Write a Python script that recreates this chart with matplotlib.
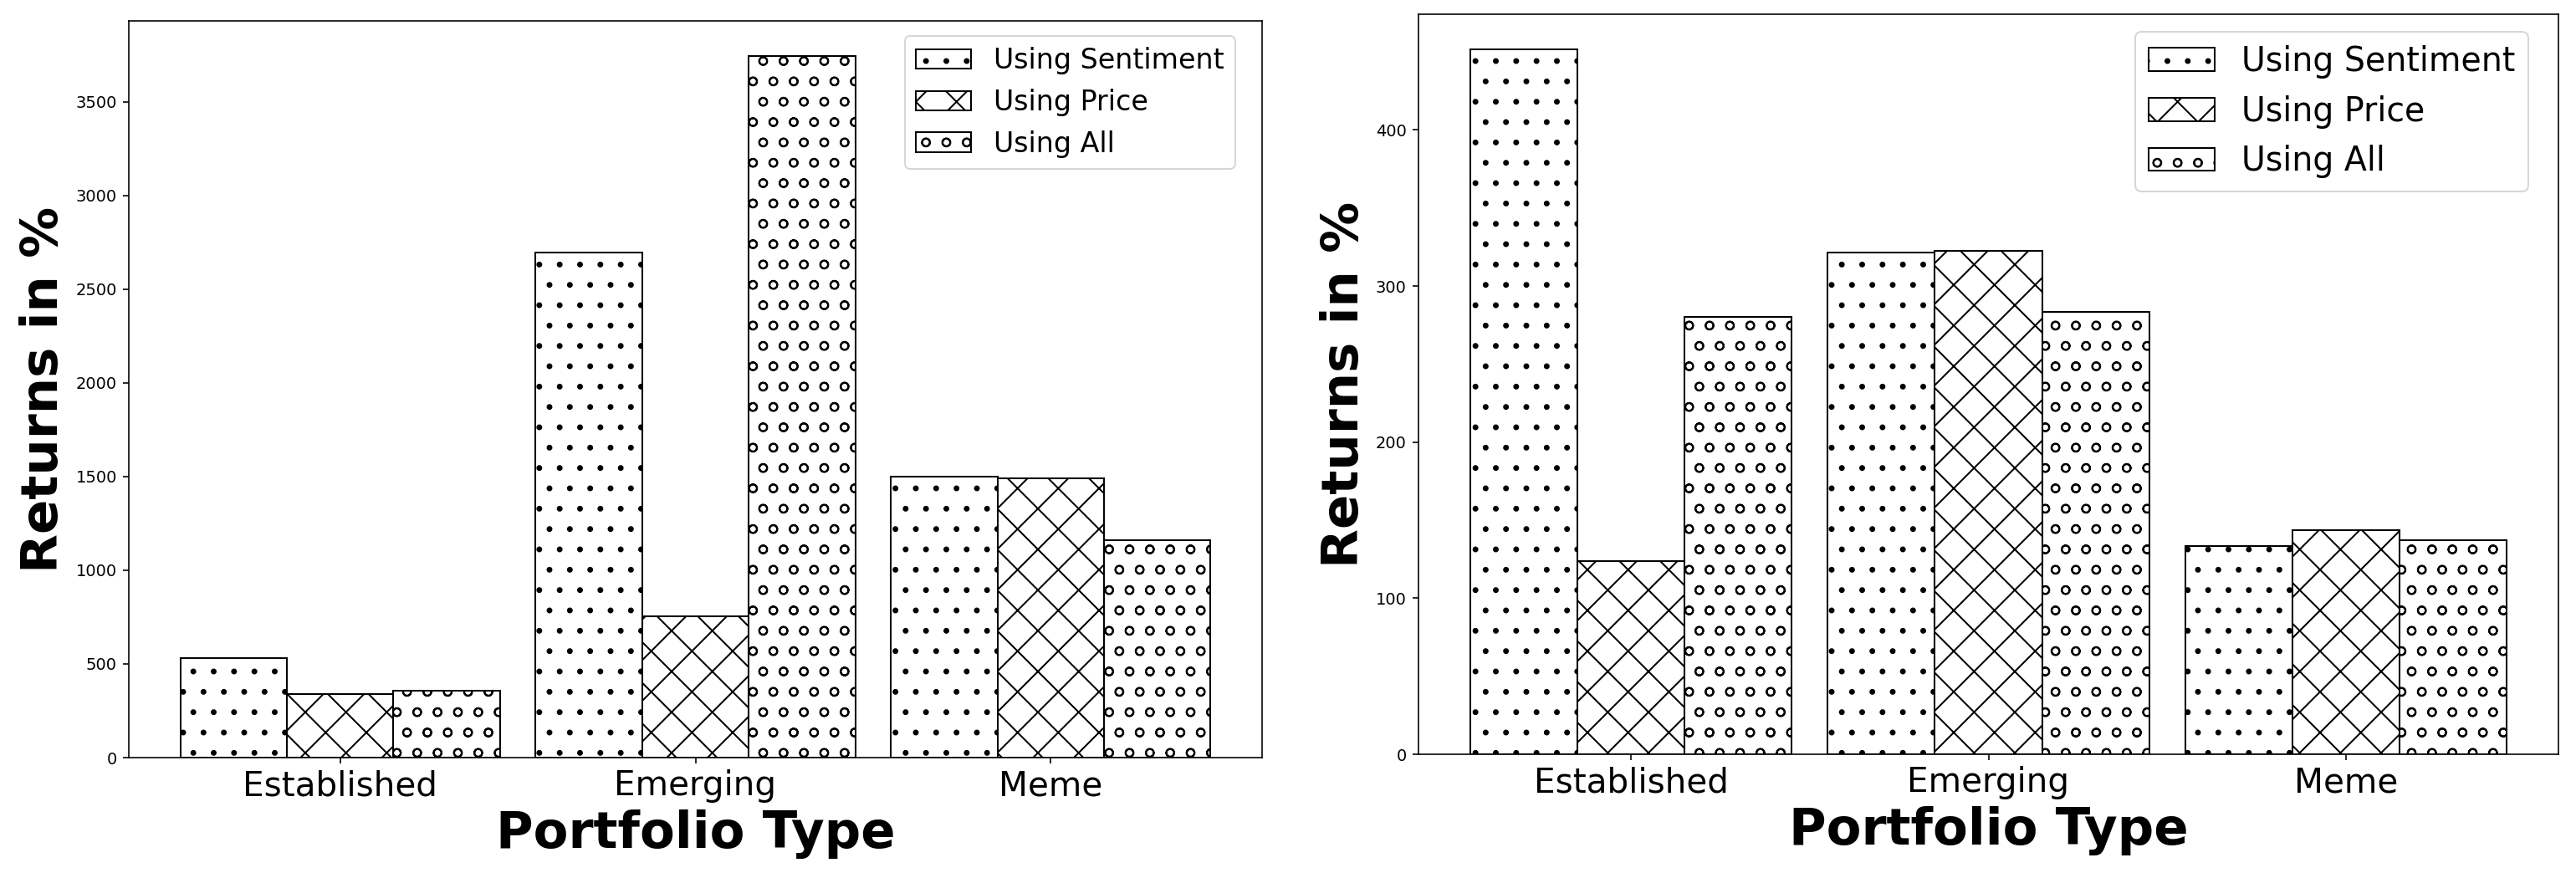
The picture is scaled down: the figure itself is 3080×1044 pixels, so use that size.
import matplotlib
matplotlib.use("Agg")
import matplotlib.pyplot as plt
import numpy as np

categories = ["Established", "Emerging", "Meme"]
series_names = ["Using Sentiment", "Using Price", "Using All"]
hatches = [".", "x", "o"]

# left panel
left_sentiment = [530, 2698, 1498]
left_price = [341, 754, 1489]
left_all = [357, 3745, 1159]

# right panel
right_sentiment = [451.6, 321.4, 133.4]
right_price = [123.6, 322.6, 143.6]
right_all = [280, 283.2, 137.1]

fig = plt.figure(figsize=(3080 / 146, 1044 / 146), dpi=146)
ax1 = fig.add_axes([154 / 3080, 1 - 906 / 1044, 1355 / 3080, 881 / 1044])
ax2 = fig.add_axes([1696 / 3080, 1 - 902 / 1044, 1363 / 3080, 885 / 1044])

x = np.arange(len(categories))
width = 0.3


def draw(ax, data, legend_size, anchor):
    for i, vals in enumerate(data):
        ax.bar(x + (i - 1) * width, vals, width, color='white', edgecolor='black',
               hatch=hatches[i], label=series_names[i])
    ax.set_xticks(x)
    ax.set_xticklabels(categories, fontsize=20)
    ax.tick_params(axis='y', labelsize=9.6)
    ax.set_xlabel("Portfolio Type", fontsize=30, fontweight='bold')
    ax.set_ylabel("Returns in %", fontsize=30, fontweight='bold')
    ax.legend(loc='upper right', bbox_to_anchor=anchor, borderaxespad=0,
              fontsize=legend_size)


draw(ax1, [left_sentiment, left_price, left_all], 16.4, (0.9764, 0.9796))
ax1.set_yticks([0, 500, 1000, 1500, 2000, 2500, 3000, 3500])
draw(ax2, [right_sentiment, right_price, right_all], 19.5, (0.9736, 0.9763))
ax2.set_yticks([0, 100, 200, 300, 400])

fig.savefig("out.png", dpi=146)
